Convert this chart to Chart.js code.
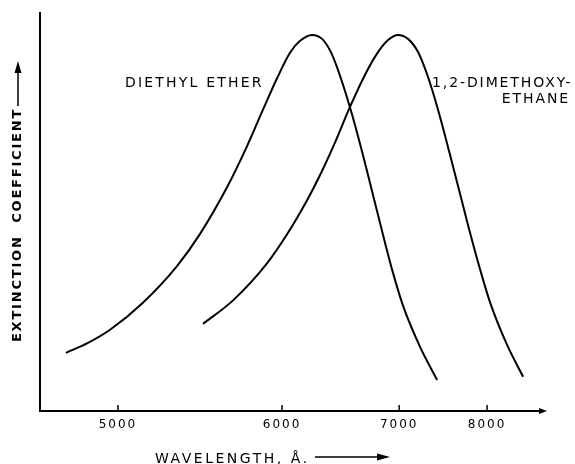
<!DOCTYPE html>
<html>
<head>
<meta charset="utf-8">
<script src="https://cdn.jsdelivr.net/npm/chart.js@4"></script>
<style>
html,body{margin:0;padding:0;background:#fff;}
#wrap{width:575px;height:464px;position:relative;}
</style>
</head>
<body>
<div id="wrap"><canvas id="c" width="575" height="464"></canvas></div>
<script>
// Wavelengths in Ångström, extinction coefficient in arbitrary units (0-100)
const etherWavelength = [4749, 4852, 4960, 5130, 5319, 5455, 5623, 5754, 5864, 5964, 6059, 6135, 6228, 6308, 6373, 6431, 6542, 6658, 6721, 6843, 6939, 7039, 7214, 7399];
const etherExtinction = [14.6, 17.1, 20.4, 27.2, 36.4, 44.5, 56.2, 66.5, 75.7, 83.6, 90.0, 93.0, 94.5, 93.5, 90.6, 86.4, 76.3, 64.2, 57.3, 44.2, 34.7, 26.4, 16.1, 7.8];
const dmeWavelength = [5473, 5662, 5892, 6037, 6188, 6292, 6415, 6542, 6676, 6786, 6891, 6989, 7089, 7193, 7289, 7399, 7581, 7760, 7910, 8039, 8269, 8498];
const dmeExtinction = [21.9, 27.8, 37.1, 44.4, 52.9, 59.3, 67.5, 76.4, 84.5, 89.8, 93.2, 94.5, 93.5, 90.2, 84.6, 76.5, 61.4, 46.7, 35.6, 27.3, 16.6, 8.6];
const tickWavelengths = [5000, 6000, 7000, 8000];
const seriesNames = ['DIETHYL ETHER', '1,2-DIMETHOXY-ETHANE'];

// The x axis of the original is linear in wavenumber (1/λ); plot on wavenumber (cm⁻¹), reversed.
const toWN = l => 1e8 / l;
const pts = (ws, ys) => ws.map((w, i) => ({x: toWN(w), y: ys[i]}));

const FONT = '"DejaVu Sans", sans-serif';

const decor = {
  id: 'decor',
  beforeDraw(chart) {
    chart.ctx.letterSpacing = '2px';
  },
  afterDraw(chart) {
    const ctx = chart.ctx;
    const xs = chart.scales.x;
    const ca = chart.chartArea;
    ctx.save();
    ctx.strokeStyle = '#000';
    ctx.fillStyle = '#000';
    // inward tick marks
    ctx.lineWidth = 1.5;
    xs.ticks.forEach(t => {
      const px = xs.getPixelForValue(t.value);
      ctx.beginPath();
      ctx.moveTo(px, ca.bottom);
      ctx.lineTo(px, ca.bottom - 6);
      ctx.stroke();
    });
    // arrowhead at x axis end
    ctx.beginPath();
    ctx.moveTo(ca.right + 4, ca.bottom);
    ctx.lineTo(ca.right - 4, ca.bottom - 3);
    ctx.lineTo(ca.right - 4, ca.bottom + 3);
    ctx.closePath();
    ctx.fill();

    // y title
    ctx.save();
    ctx.translate(18, 225);
    ctx.rotate(-Math.PI / 2);
    ctx.font = 'bold 13px ' + FONT;
    ctx.letterSpacing = '1.8px';
    ctx.textAlign = 'center';
    ctx.textBaseline = 'middle';
    ctx.fillText('EXTINCTION  COEFFICIENT', 0, 0);
    ctx.restore();
    // y arrow
    ctx.lineWidth = 1.5;
    ctx.beginPath();
    ctx.moveTo(18, 106);
    ctx.lineTo(18, 70);
    ctx.stroke();
    ctx.beginPath();
    ctx.moveTo(18, 61);
    ctx.lineTo(14.5, 73);
    ctx.lineTo(21.5, 73);
    ctx.closePath();
    ctx.fill();

    // x title
    ctx.font = '14px ' + FONT;
    ctx.letterSpacing = '2.5px';
    ctx.textAlign = 'left';
    ctx.textBaseline = 'alphabetic';
    ctx.fillText('WAVELENGTH, Å.', 155, 463);
    ctx.lineWidth = 1.5;
    ctx.beginPath();
    ctx.moveTo(315, 457);
    ctx.lineTo(380, 457);
    ctx.stroke();
    ctx.beginPath();
    ctx.moveTo(390, 457);
    ctx.lineTo(377, 453.5);
    ctx.lineTo(377, 460.5);
    ctx.closePath();
    ctx.fill();

    // curve labels
    ctx.font = '14px ' + FONT;
    ctx.letterSpacing = '2.2px';
    ctx.textAlign = 'left';
    ctx.fillText(seriesNames[0], 125, 87);
    ctx.letterSpacing = '1.9px';
    ctx.fillText('1,2-DIMETHOXY-', 432, 87);
    ctx.textAlign = 'right';
    ctx.fillText('ETHANE', 570, 103);
    ctx.restore();
  }
};

new Chart(document.getElementById('c'), {
  type: 'line',
  data: {
    datasets: [
      {label: seriesNames[0], data: pts(etherWavelength, etherExtinction)},
      {label: seriesNames[1], data: pts(dmeWavelength, dmeExtinction)}
    ].map(d => Object.assign(d, {
      borderColor: '#000', borderWidth: 2, pointRadius: 0,
      cubicInterpolationMode: 'monotone', fill: false
    }))
  },
  options: {
    responsive: false,
    animation: false,
    events: [],
    layout: {padding: {top: 13, right: 32, left: 0, bottom: 0}},
    plugins: {legend: {display: false}, tooltip: {enabled: false}},
    scales: {
      x: {
        type: 'linear',
        reverse: true,
        min: toWN(8800),
        max: toWN(4633),
        afterBuildTicks: s => { s.ticks = tickWavelengths.map(l => ({value: toWN(l)})); },
        afterFit: s => { s.height = 53; },
        grid: {drawOnChartArea: false, drawTicks: false},
        border: {display: true, color: '#000', width: 2},
        ticks: {
          padding: 7,
          color: '#000',
          font: {family: FONT, size: 12},
          maxRotation: 0,
          autoSkip: false,
          callback: v => String(Math.round(1e8 / v / 100) * 100)
        }
      },
      y: {
        type: 'linear',
        min: 0,
        max: 100,
        afterFit: s => { s.width = 40; },
        grid: {drawOnChartArea: false, drawTicks: false},
        border: {display: true, color: '#000', width: 2},
        ticks: {display: false}
      }
    }
  },
  plugins: [decor]
});
</script>
</body>
</html>
